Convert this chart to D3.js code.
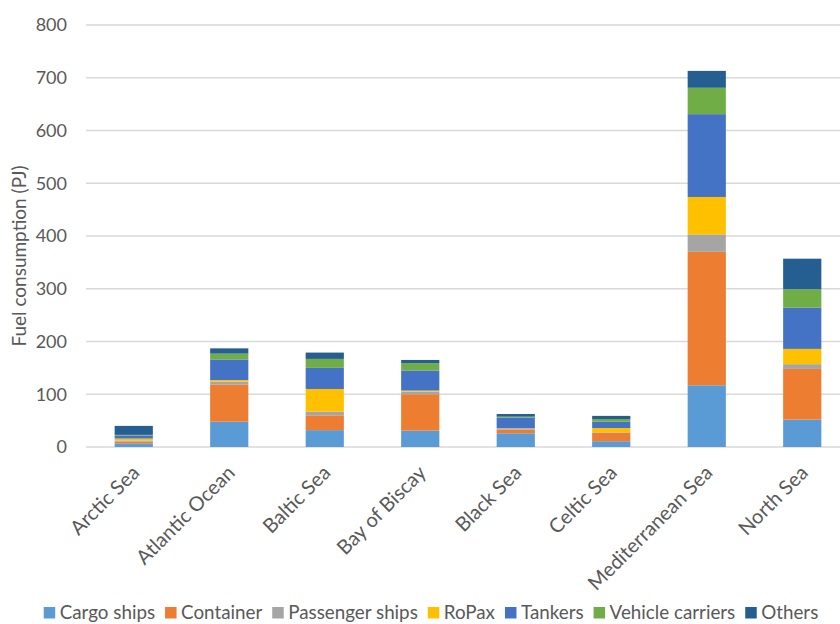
<!DOCTYPE html>
<html>
<head>
<meta charset="utf-8">
<script src="https://cdn.jsdelivr.net/npm/d3@7"></script>
<style>
  body { margin: 0; background: #fff; }
  svg { display: block; font-family: Lato, "Open Sans", sans-serif; }
</style>
</head>
<body>
<svg id="chart" width="840" height="624"></svg>
<script>
// Fuel consumption by sea area, stacked by ship type (values in PJ)
const seas = ['Arctic Sea', 'Atlantic Ocean', 'Baltic Sea', 'Bay of Biscay',
  'Black Sea', 'Celtic Sea', 'Mediterranean Sea', 'North Sea'];

const cargoShips      = [7, 48, 32, 31, 26, 11, 117, 52];
const container       = [3, 70, 28, 69, 7, 16, 253, 96];
const passengerShips  = [2, 6, 7, 5, 2, 1, 33, 9];
const roPax           = [4, 3, 43, 2, 0.5, 8, 71, 29];
const tankers         = [6, 39, 40, 38, 20, 12, 157, 78];
const vehicleCarriers = [1, 11, 17, 14, 2, 5, 50, 35];
const others          = [17, 10, 12, 6, 5, 6, 32, 58];

const seriesNames = ['Cargo ships', 'Container', 'Passenger ships', 'RoPax',
  'Tankers', 'Vehicle carriers', 'Others'];
const seriesValues = [cargoShips, container, passengerShips, roPax,
  tankers, vehicleCarriers, others];
const seriesColors = ['#5B9BD5', '#ED7D31', '#A5A5A5', '#FFC000',
  '#4472C4', '#70AD47', '#255E91'];

const yTicks = [0, 100, 200, 300, 400, 500, 600, 700, 800];

// build rows for d3.stack
const rows = seas.map((sea, i) => {
  const row = { sea };
  seriesNames.forEach((name, s) => { row[name] = seriesValues[s][i]; });
  return row;
});

const svg = d3.select('#chart');
const plot = { left: 86, right: 850, top: 25, bottom: 447 };

const x = d3.scaleBand()
  .domain(seas)
  .range([plot.left, plot.right])
  .paddingInner(0.6)
  .paddingOuter(0.3);

const y = d3.scaleLinear()
  .domain([0, 800])
  .range([plot.bottom, plot.top]);

const color = d3.scaleOrdinal().domain(seriesNames).range(seriesColors);

// gridlines
svg.append('g')
  .selectAll('line')
  .data(yTicks)
  .join('line')
  .attr('x1', plot.left)
  .attr('x2', plot.right)
  .attr('y1', d => y(d))
  .attr('y2', d => y(d))
  .attr('stroke', '#D9D9D9')
  .attr('stroke-width', 1.4);

// y axis labels
const yAxis = svg.append('g')
  .attr('transform', `translate(${plot.left},0)`)
  .call(d3.axisLeft(y).tickValues(yTicks).tickSize(0).tickPadding(19));
yAxis.select('.domain').remove();
yAxis.selectAll('text')
  .attr('font-family', 'Lato, sans-serif')
  .attr('font-size', 18)
  .attr('fill', '#595959');

// y axis title
svg.append('text')
  .attr('transform', 'translate(26,256) rotate(-90)')
  .attr('text-anchor', 'middle')
  .attr('font-size', 19)
  .attr('fill', '#595959')
  .text('Fuel consumption (PJ)');

// stacked bars
const stacked = d3.stack().keys(seriesNames)(rows);

svg.append('g')
  .selectAll('g')
  .data(stacked)
  .join('g')
  .attr('fill', d => color(d.key))
  .selectAll('rect')
  .data(d => d)
  .join('rect')
  .attr('x', d => x(d.data.sea))
  .attr('width', x.bandwidth())
  .attr('y', d => y(d[1]))
  .attr('height', d => y(d[0]) - y(d[1]));

// x axis labels, rotated
const xAxis = svg.append('g')
  .attr('transform', `translate(0,${plot.bottom})`)
  .call(d3.axisBottom(x).tickSize(0).tickPadding(0));
xAxis.select('.domain').remove();
xAxis.selectAll('text')
  .attr('font-family', 'Lato, sans-serif')
  .attr('font-size', 20)
  .attr('fill', '#595959')
  .attr('text-anchor', 'end')
  .attr('dy', null)
  .attr('y', 0)
  .attr('transform', 'translate(7,27) rotate(-45)');

// legend
const legend = svg.append('g');
let cursor = 0;
seriesNames.forEach(name => {
  const g = legend.append('g');
  g.append('rect')
    .attr('width', 11.5)
    .attr('height', 11.5)
    .attr('y', -12)
    .attr('fill', color(name));
  const t = g.append('text')
    .attr('x', 16)
    .attr('font-size', 18.8)
    .attr('fill', '#595959')
    .text(name);
  const w = 16 + t.node().getComputedTextLength();
  g.attr('transform', `translate(${cursor},0)`);
  cursor += w + 10;
});
const legendWidth = cursor - 10;
legend.attr('transform', `translate(${431 - legendWidth / 2},619)`);
</script>
</body>
</html>
